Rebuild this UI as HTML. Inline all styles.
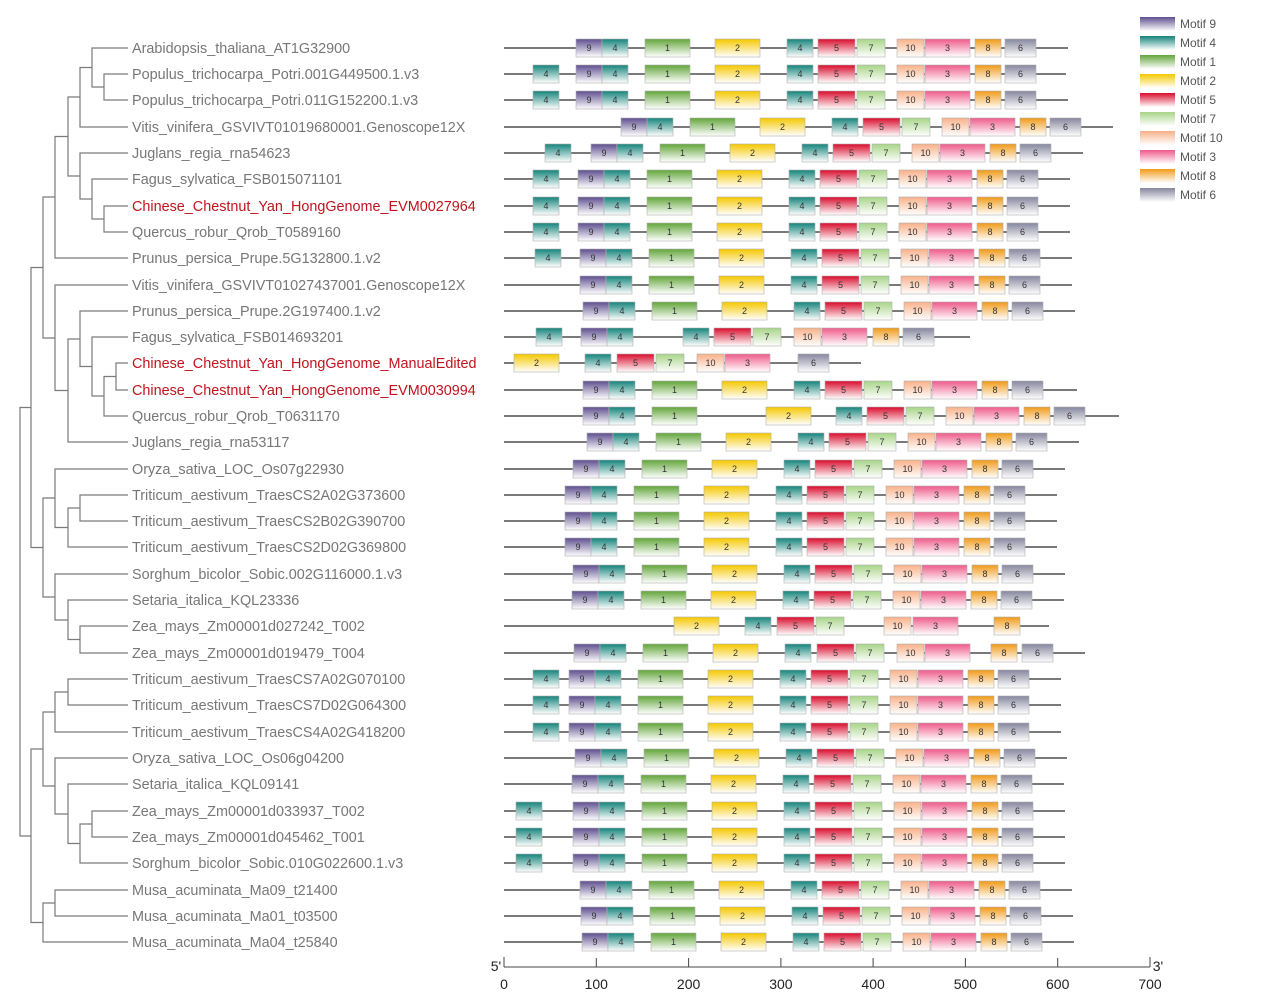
<!DOCTYPE html>
<html><head><meta charset="utf-8"><style>
body{margin:0;background:#fff;}
svg{display:block;font-family:"Liberation Sans",sans-serif;}
.ln{stroke:#7a7a7a;stroke-width:2}
rect.b{y:-9px;height:18px;stroke:#b0b0b0;stroke-width:.6}
.m9{fill:url(#g9);width:26px}.m4{fill:url(#g4);width:26px}.m1{fill:url(#g1);width:45px}.m2{fill:url(#g2);width:45px}
.m5{fill:url(#g5);width:37px}.m7{fill:url(#g7);width:28px}.m10{fill:url(#g10);width:27px}.m3{fill:url(#g3);width:45px}
.m8{fill:url(#g8);width:26px}.m6{fill:url(#g6);width:31px}
.r text{font-size:9px;text-anchor:middle;dominant-baseline:central;fill:#333}
.tr path{fill:none;stroke:#7a7a7a;stroke-width:1.2}
.lb{font-size:14.4px;fill:#777}.red{fill:#c0141c}
.lg{font-size:12px;fill:#555}
.ax{font-size:14px;fill:#222;text-anchor:middle}
</style></head><body>
<svg width="1269" height="997" viewBox="0 0 1269 997">
<defs>
<linearGradient id="g9" x1="0" y1="0" x2="0" y2="1"><stop offset="0" stop-color="#5e4e8e"/><stop offset="1" stop-color="#fff"/></linearGradient>
<linearGradient id="g4" x1="0" y1="0" x2="0" y2="1"><stop offset="0" stop-color="#14837a"/><stop offset="1" stop-color="#fff"/></linearGradient>
<linearGradient id="g1" x1="0" y1="0" x2="0" y2="1"><stop offset="0" stop-color="#62a53a"/><stop offset="1" stop-color="#fff"/></linearGradient>
<linearGradient id="g2" x1="0" y1="0" x2="0" y2="1"><stop offset="0" stop-color="#f5c800"/><stop offset="1" stop-color="#fff"/></linearGradient>
<linearGradient id="g5" x1="0" y1="0" x2="0" y2="1"><stop offset="0" stop-color="#d80c2c"/><stop offset="1" stop-color="#fff"/></linearGradient>
<linearGradient id="g7" x1="0" y1="0" x2="0" y2="1"><stop offset="0" stop-color="#a8d488"/><stop offset="1" stop-color="#fff"/></linearGradient>
<linearGradient id="g10" x1="0" y1="0" x2="0" y2="1"><stop offset="0" stop-color="#f8b088"/><stop offset="1" stop-color="#fff"/></linearGradient>
<linearGradient id="g3" x1="0" y1="0" x2="0" y2="1"><stop offset="0" stop-color="#ee5a8a"/><stop offset="1" stop-color="#fff"/></linearGradient>
<linearGradient id="g8" x1="0" y1="0" x2="0" y2="1"><stop offset="0" stop-color="#f09a18"/><stop offset="1" stop-color="#fff"/></linearGradient>
<linearGradient id="g6" x1="0" y1="0" x2="0" y2="1"><stop offset="0" stop-color="#86869e"/><stop offset="1" stop-color="#fff"/></linearGradient>
</defs>

<g class="tr">
<path d="M128,74H104V100H128"/>
<path d="M128,48H92V87H104"/>
<path d="M92,67.5H80V127H128"/>
<path d="M128,206H104V232H128"/>
<path d="M128,179H92V219H104"/>
<path d="M128,153H80V199H92"/>
<path d="M80,97H68V176H80"/>
<path d="M68,136.5H55V258H128"/>
<path d="M128,363H116V390H128"/>
<path d="M116,376.5H104V416H128"/>
<path d="M128,337H92V396H104"/>
<path d="M128,311H80V366.5H92"/>
<path d="M80,339H68V442H128"/>
<path d="M128,285H55V390.5H68"/>
<path d="M55,197H43V338H55"/>
<path d="M128,495H80V521H128"/>
<path d="M80,508H68V547H128"/>
<path d="M128,469H55V527.5H68"/>
<path d="M128,626H80V653H128"/>
<path d="M128,600H68V639.5H80"/>
<path d="M128,574H55V620H68"/>
<path d="M55,498H43V597H55"/>
<path d="M43,267.5H31V547.5H43"/>
<path d="M128,679H68V705H128"/>
<path d="M68,692H55V732H128"/>
<path d="M128,811H92V837H128"/>
<path d="M92,824H80V863H128"/>
<path d="M128,784H68V843.5H80"/>
<path d="M128,758H55V814H68"/>
<path d="M55,712H43V786H55"/>
<path d="M128,890H55V916H128"/>
<path d="M55,903H43V942H128"/>
<path d="M43,749H31V922.5H43"/>
<path d="M31,407.5H20V836H31"/>
</g>

<g class="lb">
<text x="132" y="53">Arabidopsis_thaliana_AT1G32900</text>
<text x="132" y="79">Populus_trichocarpa_Potri.001G449500.1.v3</text>
<text x="132" y="105">Populus_trichocarpa_Potri.011G152200.1.v3</text>
<text x="132" y="132">Vitis_vinifera_GSVIVT01019680001.Genoscope12X</text>
<text x="132" y="158">Juglans_regia_rna54623</text>
<text x="132" y="184">Fagus_sylvatica_FSB015071101</text>
<text x="132" y="211" class="red">Chinese_Chestnut_Yan_HongGenome_EVM0027964</text>
<text x="132" y="237">Quercus_robur_Qrob_T0589160</text>
<text x="132" y="263">Prunus_persica_Prupe.5G132800.1.v2</text>
<text x="132" y="290">Vitis_vinifera_GSVIVT01027437001.Genoscope12X</text>
<text x="132" y="316">Prunus_persica_Prupe.2G197400.1.v2</text>
<text x="132" y="342">Fagus_sylvatica_FSB014693201</text>
<text x="132" y="368" class="red">Chinese_Chestnut_Yan_HongGenome_ManualEdited</text>
<text x="132" y="395" class="red">Chinese_Chestnut_Yan_HongGenome_EVM0030994</text>
<text x="132" y="421">Quercus_robur_Qrob_T0631170</text>
<text x="132" y="447">Juglans_regia_rna53117</text>
<text x="132" y="474">Oryza_sativa_LOC_Os07g22930</text>
<text x="132" y="500">Triticum_aestivum_TraesCS2A02G373600</text>
<text x="132" y="526">Triticum_aestivum_TraesCS2B02G390700</text>
<text x="132" y="552">Triticum_aestivum_TraesCS2D02G369800</text>
<text x="132" y="579">Sorghum_bicolor_Sobic.002G116000.1.v3</text>
<text x="132" y="605">Setaria_italica_KQL23336</text>
<text x="132" y="631">Zea_mays_Zm00001d027242_T002</text>
<text x="132" y="658">Zea_mays_Zm00001d019479_T004</text>
<text x="132" y="684">Triticum_aestivum_TraesCS7A02G070100</text>
<text x="132" y="710">Triticum_aestivum_TraesCS7D02G064300</text>
<text x="132" y="737">Triticum_aestivum_TraesCS4A02G418200</text>
<text x="132" y="763">Oryza_sativa_LOC_Os06g04200</text>
<text x="132" y="789">Setaria_italica_KQL09141</text>
<text x="132" y="816">Zea_mays_Zm00001d033937_T002</text>
<text x="132" y="842">Zea_mays_Zm00001d045462_T001</text>
<text x="132" y="868">Sorghum_bicolor_Sobic.010G022600.1.v3</text>
<text x="132" y="895">Musa_acuminata_Ma09_t21400</text>
<text x="132" y="921">Musa_acuminata_Ma01_t03500</text>
<text x="132" y="947">Musa_acuminata_Ma04_t25840</text>
</g>

<g class="r" transform="translate(0,48)"><line class="ln" x1="504" x2="1068"/><rect class="b m9" x="576"/><rect class="b m4" x="602"/><rect class="b m1" x="645"/><rect class="b m2" x="715"/><rect class="b m4" x="787"/><rect class="b m5" x="818"/><rect class="b m7" x="857"/><rect class="b m10" x="897"/><rect class="b m3" x="925"/><rect class="b m8" x="975"/><rect class="b m6" x="1005"/><text x="589">9</text><text x="615">4</text><text x="667.5">1</text><text x="737.5">2</text><text x="800">4</text><text x="836.5">5</text><text x="871">7</text><text x="910.5">10</text><text x="947.5">3</text><text x="988">8</text><text x="1020.5">6</text></g>

<g class="r" transform="translate(0,74)"><line class="ln" x1="504" x2="1066"/><rect class="b m4" x="533"/><text x="546">4</text><rect class="b m9" x="576"/><rect class="b m4" x="602"/><rect class="b m1" x="645"/><rect class="b m2" x="715"/><rect class="b m4" x="787"/><rect class="b m5" x="818"/><rect class="b m7" x="857"/><rect class="b m10" x="897"/><rect class="b m3" x="925"/><rect class="b m8" x="975"/><rect class="b m6" x="1005"/><text x="589">9</text><text x="615">4</text><text x="667.5">1</text><text x="737.5">2</text><text x="800">4</text><text x="836.5">5</text><text x="871">7</text><text x="910.5">10</text><text x="947.5">3</text><text x="988">8</text><text x="1020.5">6</text></g>

<g class="r" transform="translate(0,100)"><line class="ln" x1="504" x2="1068"/><rect class="b m4" x="533"/><text x="546">4</text><rect class="b m9" x="576"/><rect class="b m4" x="602"/><rect class="b m1" x="645"/><rect class="b m2" x="715"/><rect class="b m4" x="787"/><rect class="b m5" x="818"/><rect class="b m7" x="857"/><rect class="b m10" x="897"/><rect class="b m3" x="925"/><rect class="b m8" x="975"/><rect class="b m6" x="1005"/><text x="589">9</text><text x="615">4</text><text x="667.5">1</text><text x="737.5">2</text><text x="800">4</text><text x="836.5">5</text><text x="871">7</text><text x="910.5">10</text><text x="947.5">3</text><text x="988">8</text><text x="1020.5">6</text></g>

<g class="r" transform="translate(0,127)"><line class="ln" x1="504" x2="1113"/><rect class="b m9" x="621"/><rect class="b m4" x="647"/><rect class="b m1" x="690"/><rect class="b m2" x="760"/><rect class="b m4" x="832"/><rect class="b m5" x="863"/><rect class="b m7" x="902"/><rect class="b m10" x="942"/><rect class="b m3" x="970"/><rect class="b m8" x="1020"/><rect class="b m6" x="1050"/><text x="634">9</text><text x="660">4</text><text x="712.5">1</text><text x="782.5">2</text><text x="845">4</text><text x="881.5">5</text><text x="916">7</text><text x="955.5">10</text><text x="992.5">3</text><text x="1033">8</text><text x="1065.5">6</text></g>

<g class="r" transform="translate(0,153)"><line class="ln" x1="504" x2="1083"/><rect class="b m4" x="545"/><text x="558">4</text><rect class="b m9" x="591"/><rect class="b m4" x="617"/><rect class="b m1" x="660"/><rect class="b m2" x="730"/><rect class="b m4" x="802"/><rect class="b m5" x="833"/><rect class="b m7" x="872"/><rect class="b m10" x="912"/><rect class="b m3" x="940"/><rect class="b m8" x="990"/><rect class="b m6" x="1020"/><text x="604">9</text><text x="630">4</text><text x="682.5">1</text><text x="752.5">2</text><text x="815">4</text><text x="851.5">5</text><text x="886">7</text><text x="925.5">10</text><text x="962.5">3</text><text x="1003">8</text><text x="1035.5">6</text></g>

<g class="r" transform="translate(0,179)"><line class="ln" x1="504" x2="1070"/><rect class="b m4" x="533"/><text x="546">4</text><rect class="b m9" x="578"/><rect class="b m4" x="604"/><rect class="b m1" x="647"/><rect class="b m2" x="717"/><rect class="b m4" x="789"/><rect class="b m5" x="820"/><rect class="b m7" x="859"/><rect class="b m10" x="899"/><rect class="b m3" x="927"/><rect class="b m8" x="977"/><rect class="b m6" x="1007"/><text x="591">9</text><text x="617">4</text><text x="669.5">1</text><text x="739.5">2</text><text x="802">4</text><text x="838.5">5</text><text x="873">7</text><text x="912.5">10</text><text x="949.5">3</text><text x="990">8</text><text x="1022.5">6</text></g>

<g class="r" transform="translate(0,206)"><line class="ln" x1="504" x2="1070"/><rect class="b m4" x="533"/><text x="546">4</text><rect class="b m9" x="578"/><rect class="b m4" x="604"/><rect class="b m1" x="647"/><rect class="b m2" x="717"/><rect class="b m4" x="789"/><rect class="b m5" x="820"/><rect class="b m7" x="859"/><rect class="b m10" x="899"/><rect class="b m3" x="927"/><rect class="b m8" x="977"/><rect class="b m6" x="1007"/><text x="591">9</text><text x="617">4</text><text x="669.5">1</text><text x="739.5">2</text><text x="802">4</text><text x="838.5">5</text><text x="873">7</text><text x="912.5">10</text><text x="949.5">3</text><text x="990">8</text><text x="1022.5">6</text></g>

<g class="r" transform="translate(0,232)"><line class="ln" x1="504" x2="1070"/><rect class="b m4" x="533"/><text x="546">4</text><rect class="b m9" x="578"/><rect class="b m4" x="604"/><rect class="b m1" x="647"/><rect class="b m2" x="717"/><rect class="b m4" x="789"/><rect class="b m5" x="820"/><rect class="b m7" x="859"/><rect class="b m10" x="899"/><rect class="b m3" x="927"/><rect class="b m8" x="977"/><rect class="b m6" x="1007"/><text x="591">9</text><text x="617">4</text><text x="669.5">1</text><text x="739.5">2</text><text x="802">4</text><text x="838.5">5</text><text x="873">7</text><text x="912.5">10</text><text x="949.5">3</text><text x="990">8</text><text x="1022.5">6</text></g>

<g class="r" transform="translate(0,258)"><line class="ln" x1="504" x2="1072"/><rect class="b m4" x="535"/><text x="548">4</text><rect class="b m9" x="580"/><rect class="b m4" x="606"/><rect class="b m1" x="649"/><rect class="b m2" x="719"/><rect class="b m4" x="791"/><rect class="b m5" x="822"/><rect class="b m7" x="861"/><rect class="b m10" x="901"/><rect class="b m3" x="929"/><rect class="b m8" x="979"/><rect class="b m6" x="1009"/><text x="593">9</text><text x="619">4</text><text x="671.5">1</text><text x="741.5">2</text><text x="804">4</text><text x="840.5">5</text><text x="875">7</text><text x="914.5">10</text><text x="951.5">3</text><text x="992">8</text><text x="1024.5">6</text></g>

<g class="r" transform="translate(0,285)"><line class="ln" x1="504" x2="1072"/><rect class="b m9" x="580"/><rect class="b m4" x="606"/><rect class="b m1" x="649"/><rect class="b m2" x="719"/><rect class="b m4" x="791"/><rect class="b m5" x="822"/><rect class="b m7" x="861"/><rect class="b m10" x="901"/><rect class="b m3" x="929"/><rect class="b m8" x="979"/><rect class="b m6" x="1009"/><text x="593">9</text><text x="619">4</text><text x="671.5">1</text><text x="741.5">2</text><text x="804">4</text><text x="840.5">5</text><text x="875">7</text><text x="914.5">10</text><text x="951.5">3</text><text x="992">8</text><text x="1024.5">6</text></g>

<g class="r" transform="translate(0,311)"><line class="ln" x1="504" x2="1075"/><rect class="b m9" x="583"/><rect class="b m4" x="609"/><rect class="b m1" x="652"/><rect class="b m2" x="722"/><rect class="b m4" x="794"/><rect class="b m5" x="825"/><rect class="b m7" x="864"/><rect class="b m10" x="904"/><rect class="b m3" x="932"/><rect class="b m8" x="982"/><rect class="b m6" x="1012"/><text x="596">9</text><text x="622">4</text><text x="674.5">1</text><text x="744.5">2</text><text x="807">4</text><text x="843.5">5</text><text x="878">7</text><text x="917.5">10</text><text x="954.5">3</text><text x="995">8</text><text x="1027.5">6</text></g>

<g class="r" transform="translate(0,337)"><line class="ln" x1="504" x2="970"/><rect class="b m4" x="536"/><rect class="b m9" x="581"/><rect class="b m4" x="607"/><rect class="b m4" x="683"/><rect class="b m5" x="714"/><rect class="b m7" x="753"/><rect class="b m10" x="794"/><rect class="b m3" x="822"/><rect class="b m8" x="873"/><rect class="b m6" x="903"/><text x="549">4</text><text x="594">9</text><text x="620">4</text><text x="696">4</text><text x="732.5">5</text><text x="767">7</text><text x="807.5">10</text><text x="844.5">3</text><text x="886">8</text><text x="918.5">6</text></g>

<g class="r" transform="translate(0,363)"><line class="ln" x1="504" x2="861"/><rect class="b m2" x="514"/><rect class="b m4" x="585"/><rect class="b m5" x="617"/><rect class="b m7" x="656"/><rect class="b m10" x="697"/><rect class="b m3" x="725"/><rect class="b m6" x="798"/><text x="536.5">2</text><text x="598">4</text><text x="635.5">5</text><text x="670">7</text><text x="710.5">10</text><text x="747.5">3</text><text x="813.5">6</text></g>

<g class="r" transform="translate(0,390)"><line class="ln" x1="504" x2="1077"/><rect class="b m9" x="583"/><rect class="b m4" x="609"/><rect class="b m1" x="652"/><rect class="b m2" x="722"/><rect class="b m4" x="794"/><rect class="b m5" x="825"/><rect class="b m7" x="864"/><rect class="b m10" x="904"/><rect class="b m3" x="932"/><rect class="b m8" x="982"/><rect class="b m6" x="1012"/><text x="596">9</text><text x="622">4</text><text x="674.5">1</text><text x="744.5">2</text><text x="807">4</text><text x="843.5">5</text><text x="878">7</text><text x="917.5">10</text><text x="954.5">3</text><text x="995">8</text><text x="1027.5">6</text></g>

<g class="r" transform="translate(0,416)"><line class="ln" x1="504" x2="1119"/><rect class="b m9" x="583"/><rect class="b m4" x="609"/><rect class="b m1" x="652"/><rect class="b m2" x="766"/><rect class="b m4" x="836"/><rect class="b m5" x="867"/><rect class="b m7" x="906"/><rect class="b m10" x="946"/><rect class="b m3" x="974"/><rect class="b m8" x="1024"/><rect class="b m6" x="1054"/><text x="596">9</text><text x="622">4</text><text x="674.5">1</text><text x="788.5">2</text><text x="849">4</text><text x="885.5">5</text><text x="920">7</text><text x="959.5">10</text><text x="996.5">3</text><text x="1037">8</text><text x="1069.5">6</text></g>

<g class="r" transform="translate(0,442)"><line class="ln" x1="504" x2="1079"/><rect class="b m9" x="587"/><rect class="b m4" x="613"/><rect class="b m1" x="656"/><rect class="b m2" x="726"/><rect class="b m4" x="798"/><rect class="b m5" x="829"/><rect class="b m7" x="868"/><rect class="b m10" x="908"/><rect class="b m3" x="936"/><rect class="b m8" x="986"/><rect class="b m6" x="1016"/><text x="600">9</text><text x="626">4</text><text x="678.5">1</text><text x="748.5">2</text><text x="811">4</text><text x="847.5">5</text><text x="882">7</text><text x="921.5">10</text><text x="958.5">3</text><text x="999">8</text><text x="1031.5">6</text></g>

<g class="r" transform="translate(0,469)"><line class="ln" x1="504" x2="1065"/><rect class="b m9" x="573"/><rect class="b m4" x="599"/><rect class="b m1" x="642"/><rect class="b m2" x="712"/><rect class="b m4" x="784"/><rect class="b m5" x="815"/><rect class="b m7" x="854"/><rect class="b m10" x="894"/><rect class="b m3" x="922"/><rect class="b m8" x="972"/><rect class="b m6" x="1002"/><text x="586">9</text><text x="612">4</text><text x="664.5">1</text><text x="734.5">2</text><text x="797">4</text><text x="833.5">5</text><text x="868">7</text><text x="907.5">10</text><text x="944.5">3</text><text x="985">8</text><text x="1017.5">6</text></g>

<g class="r" transform="translate(0,495)"><line class="ln" x1="504" x2="1057"/><rect class="b m9" x="565"/><rect class="b m4" x="591"/><rect class="b m1" x="634"/><rect class="b m2" x="704"/><rect class="b m4" x="776"/><rect class="b m5" x="807"/><rect class="b m7" x="846"/><rect class="b m10" x="886"/><rect class="b m3" x="914"/><rect class="b m8" x="964"/><rect class="b m6" x="994"/><text x="578">9</text><text x="604">4</text><text x="656.5">1</text><text x="726.5">2</text><text x="789">4</text><text x="825.5">5</text><text x="860">7</text><text x="899.5">10</text><text x="936.5">3</text><text x="977">8</text><text x="1009.5">6</text></g>

<g class="r" transform="translate(0,521)"><line class="ln" x1="504" x2="1057"/><rect class="b m9" x="565"/><rect class="b m4" x="591"/><rect class="b m1" x="634"/><rect class="b m2" x="704"/><rect class="b m4" x="776"/><rect class="b m5" x="807"/><rect class="b m7" x="846"/><rect class="b m10" x="886"/><rect class="b m3" x="914"/><rect class="b m8" x="964"/><rect class="b m6" x="994"/><text x="578">9</text><text x="604">4</text><text x="656.5">1</text><text x="726.5">2</text><text x="789">4</text><text x="825.5">5</text><text x="860">7</text><text x="899.5">10</text><text x="936.5">3</text><text x="977">8</text><text x="1009.5">6</text></g>

<g class="r" transform="translate(0,547)"><line class="ln" x1="504" x2="1057"/><rect class="b m9" x="565"/><rect class="b m4" x="591"/><rect class="b m1" x="634"/><rect class="b m2" x="704"/><rect class="b m4" x="776"/><rect class="b m5" x="807"/><rect class="b m7" x="846"/><rect class="b m10" x="886"/><rect class="b m3" x="914"/><rect class="b m8" x="964"/><rect class="b m6" x="994"/><text x="578">9</text><text x="604">4</text><text x="656.5">1</text><text x="726.5">2</text><text x="789">4</text><text x="825.5">5</text><text x="860">7</text><text x="899.5">10</text><text x="936.5">3</text><text x="977">8</text><text x="1009.5">6</text></g>

<g class="r" transform="translate(0,574)"><line class="ln" x1="504" x2="1065"/><rect class="b m9" x="573"/><rect class="b m4" x="599"/><rect class="b m1" x="642"/><rect class="b m2" x="712"/><rect class="b m4" x="784"/><rect class="b m5" x="815"/><rect class="b m7" x="854"/><rect class="b m10" x="894"/><rect class="b m3" x="922"/><rect class="b m8" x="972"/><rect class="b m6" x="1002"/><text x="586">9</text><text x="612">4</text><text x="664.5">1</text><text x="734.5">2</text><text x="797">4</text><text x="833.5">5</text><text x="868">7</text><text x="907.5">10</text><text x="944.5">3</text><text x="985">8</text><text x="1017.5">6</text></g>

<g class="r" transform="translate(0,600)"><line class="ln" x1="504" x2="1064"/><rect class="b m9" x="572"/><rect class="b m4" x="598"/><rect class="b m1" x="641"/><rect class="b m2" x="711"/><rect class="b m4" x="783"/><rect class="b m5" x="814"/><rect class="b m7" x="853"/><rect class="b m10" x="893"/><rect class="b m3" x="921"/><rect class="b m8" x="971"/><rect class="b m6" x="1001"/><text x="585">9</text><text x="611">4</text><text x="663.5">1</text><text x="733.5">2</text><text x="796">4</text><text x="832.5">5</text><text x="867">7</text><text x="906.5">10</text><text x="943.5">3</text><text x="984">8</text><text x="1016.5">6</text></g>

<g class="r" transform="translate(0,626)"><line class="ln" x1="504" x2="1049"/><rect class="b m2" x="674"/><rect class="b m4" x="745"/><rect class="b m5" x="777"/><rect class="b m7" x="816"/><rect class="b m10" x="884"/><rect class="b m3" x="913"/><rect class="b m8" x="994"/><text x="696.5">2</text><text x="758">4</text><text x="795.5">5</text><text x="830">7</text><text x="897.5">10</text><text x="935.5">3</text><text x="1007">8</text></g>

<g class="r" transform="translate(0,653)"><line class="ln" x1="504" x2="1085"/><rect class="b m9" x="574"/><rect class="b m4" x="600"/><rect class="b m1" x="643"/><rect class="b m2" x="713"/><rect class="b m4" x="785"/><rect class="b m5" x="817"/><rect class="b m7" x="856"/><rect class="b m10" x="897"/><rect class="b m3" x="925"/><rect class="b m8" x="991"/><rect class="b m6" x="1022"/><text x="587">9</text><text x="613">4</text><text x="665.5">1</text><text x="735.5">2</text><text x="798">4</text><text x="835.5">5</text><text x="870">7</text><text x="910.5">10</text><text x="947.5">3</text><text x="1004">8</text><text x="1037.5">6</text></g>

<g class="r" transform="translate(0,679)"><line class="ln" x1="504" x2="1061"/><rect class="b m4" x="533"/><text x="546">4</text><rect class="b m9" x="569"/><rect class="b m4" x="595"/><rect class="b m1" x="638"/><rect class="b m2" x="708"/><rect class="b m4" x="780"/><rect class="b m5" x="811"/><rect class="b m7" x="850"/><rect class="b m10" x="890"/><rect class="b m3" x="918"/><rect class="b m8" x="968"/><rect class="b m6" x="998"/><text x="582">9</text><text x="608">4</text><text x="660.5">1</text><text x="730.5">2</text><text x="793">4</text><text x="829.5">5</text><text x="864">7</text><text x="903.5">10</text><text x="940.5">3</text><text x="981">8</text><text x="1013.5">6</text></g>

<g class="r" transform="translate(0,705)"><line class="ln" x1="504" x2="1061"/><rect class="b m4" x="533"/><text x="546">4</text><rect class="b m9" x="569"/><rect class="b m4" x="595"/><rect class="b m1" x="638"/><rect class="b m2" x="708"/><rect class="b m4" x="780"/><rect class="b m5" x="811"/><rect class="b m7" x="850"/><rect class="b m10" x="890"/><rect class="b m3" x="918"/><rect class="b m8" x="968"/><rect class="b m6" x="998"/><text x="582">9</text><text x="608">4</text><text x="660.5">1</text><text x="730.5">2</text><text x="793">4</text><text x="829.5">5</text><text x="864">7</text><text x="903.5">10</text><text x="940.5">3</text><text x="981">8</text><text x="1013.5">6</text></g>

<g class="r" transform="translate(0,732)"><line class="ln" x1="504" x2="1061"/><rect class="b m4" x="533"/><text x="546">4</text><rect class="b m9" x="569"/><rect class="b m4" x="595"/><rect class="b m1" x="638"/><rect class="b m2" x="708"/><rect class="b m4" x="780"/><rect class="b m5" x="811"/><rect class="b m7" x="850"/><rect class="b m10" x="890"/><rect class="b m3" x="918"/><rect class="b m8" x="968"/><rect class="b m6" x="998"/><text x="582">9</text><text x="608">4</text><text x="660.5">1</text><text x="730.5">2</text><text x="793">4</text><text x="829.5">5</text><text x="864">7</text><text x="903.5">10</text><text x="940.5">3</text><text x="981">8</text><text x="1013.5">6</text></g>

<g class="r" transform="translate(0,758)"><line class="ln" x1="504" x2="1067"/><rect class="b m9" x="575"/><rect class="b m4" x="601"/><rect class="b m1" x="644"/><rect class="b m2" x="714"/><rect class="b m4" x="786"/><rect class="b m5" x="817"/><rect class="b m7" x="856"/><rect class="b m10" x="896"/><rect class="b m3" x="924"/><rect class="b m8" x="974"/><rect class="b m6" x="1004"/><text x="588">9</text><text x="614">4</text><text x="666.5">1</text><text x="736.5">2</text><text x="799">4</text><text x="835.5">5</text><text x="870">7</text><text x="909.5">10</text><text x="946.5">3</text><text x="987">8</text><text x="1019.5">6</text></g>

<g class="r" transform="translate(0,784)"><line class="ln" x1="504" x2="1064"/><rect class="b m9" x="572"/><rect class="b m4" x="598"/><rect class="b m1" x="641"/><rect class="b m2" x="711"/><rect class="b m4" x="783"/><rect class="b m5" x="814"/><rect class="b m7" x="853"/><rect class="b m10" x="893"/><rect class="b m3" x="921"/><rect class="b m8" x="971"/><rect class="b m6" x="1001"/><text x="585">9</text><text x="611">4</text><text x="663.5">1</text><text x="733.5">2</text><text x="796">4</text><text x="832.5">5</text><text x="867">7</text><text x="906.5">10</text><text x="943.5">3</text><text x="984">8</text><text x="1016.5">6</text></g>

<g class="r" transform="translate(0,811)"><line class="ln" x1="504" x2="1065"/><rect class="b m4" x="516"/><text x="529">4</text><rect class="b m9" x="573"/><rect class="b m4" x="599"/><rect class="b m1" x="642"/><rect class="b m2" x="712"/><rect class="b m4" x="784"/><rect class="b m5" x="815"/><rect class="b m7" x="854"/><rect class="b m10" x="894"/><rect class="b m3" x="922"/><rect class="b m8" x="972"/><rect class="b m6" x="1002"/><text x="586">9</text><text x="612">4</text><text x="664.5">1</text><text x="734.5">2</text><text x="797">4</text><text x="833.5">5</text><text x="868">7</text><text x="907.5">10</text><text x="944.5">3</text><text x="985">8</text><text x="1017.5">6</text></g>

<g class="r" transform="translate(0,837)"><line class="ln" x1="504" x2="1065"/><rect class="b m4" x="516"/><text x="529">4</text><rect class="b m9" x="573"/><rect class="b m4" x="599"/><rect class="b m1" x="642"/><rect class="b m2" x="712"/><rect class="b m4" x="784"/><rect class="b m5" x="815"/><rect class="b m7" x="854"/><rect class="b m10" x="894"/><rect class="b m3" x="922"/><rect class="b m8" x="972"/><rect class="b m6" x="1002"/><text x="586">9</text><text x="612">4</text><text x="664.5">1</text><text x="734.5">2</text><text x="797">4</text><text x="833.5">5</text><text x="868">7</text><text x="907.5">10</text><text x="944.5">3</text><text x="985">8</text><text x="1017.5">6</text></g>

<g class="r" transform="translate(0,863)"><line class="ln" x1="504" x2="1065"/><rect class="b m4" x="516"/><text x="529">4</text><rect class="b m9" x="573"/><rect class="b m4" x="599"/><rect class="b m1" x="642"/><rect class="b m2" x="712"/><rect class="b m4" x="784"/><rect class="b m5" x="815"/><rect class="b m7" x="854"/><rect class="b m10" x="894"/><rect class="b m3" x="922"/><rect class="b m8" x="972"/><rect class="b m6" x="1002"/><text x="586">9</text><text x="612">4</text><text x="664.5">1</text><text x="734.5">2</text><text x="797">4</text><text x="833.5">5</text><text x="868">7</text><text x="907.5">10</text><text x="944.5">3</text><text x="985">8</text><text x="1017.5">6</text></g>

<g class="r" transform="translate(0,890)"><line class="ln" x1="504" x2="1072"/><rect class="b m9" x="580"/><rect class="b m4" x="606"/><rect class="b m1" x="649"/><rect class="b m2" x="719"/><rect class="b m4" x="791"/><rect class="b m5" x="822"/><rect class="b m7" x="861"/><rect class="b m10" x="901"/><rect class="b m3" x="929"/><rect class="b m8" x="979"/><rect class="b m6" x="1009"/><text x="593">9</text><text x="619">4</text><text x="671.5">1</text><text x="741.5">2</text><text x="804">4</text><text x="840.5">5</text><text x="875">7</text><text x="914.5">10</text><text x="951.5">3</text><text x="992">8</text><text x="1024.5">6</text></g>

<g class="r" transform="translate(0,916)"><line class="ln" x1="504" x2="1073"/><rect class="b m9" x="581"/><rect class="b m4" x="607"/><rect class="b m1" x="650"/><rect class="b m2" x="720"/><rect class="b m4" x="792"/><rect class="b m5" x="823"/><rect class="b m7" x="862"/><rect class="b m10" x="902"/><rect class="b m3" x="930"/><rect class="b m8" x="980"/><rect class="b m6" x="1010"/><text x="594">9</text><text x="620">4</text><text x="672.5">1</text><text x="742.5">2</text><text x="805">4</text><text x="841.5">5</text><text x="876">7</text><text x="915.5">10</text><text x="952.5">3</text><text x="993">8</text><text x="1025.5">6</text></g>

<g class="r" transform="translate(0,942)"><line class="ln" x1="504" x2="1074"/><rect class="b m9" x="582"/><rect class="b m4" x="608"/><rect class="b m1" x="651"/><rect class="b m2" x="721"/><rect class="b m4" x="793"/><rect class="b m5" x="824"/><rect class="b m7" x="863"/><rect class="b m10" x="903"/><rect class="b m3" x="931"/><rect class="b m8" x="981"/><rect class="b m6" x="1011"/><text x="595">9</text><text x="621">4</text><text x="673.5">1</text><text x="743.5">2</text><text x="806">4</text><text x="842.5">5</text><text x="877">7</text><text x="916.5">10</text><text x="953.5">3</text><text x="994">8</text><text x="1026.5">6</text></g>

<g stroke="#444" stroke-width="1">
<line x1="504" y1="967" x2="1150" y2="967"/>
<line x1="504" y1="957" x2="504" y2="967"/>
<line x1="596.3" y1="958" x2="596.3" y2="967"/>
<line x1="688.6" y1="958" x2="688.6" y2="967"/>
<line x1="780.9" y1="958" x2="780.9" y2="967"/>
<line x1="873.1" y1="958" x2="873.1" y2="967"/>
<line x1="965.4" y1="958" x2="965.4" y2="967"/>
<line x1="1057.7" y1="958" x2="1057.7" y2="967"/>
<line x1="1150" y1="957" x2="1150" y2="967"/>
</g>
<g class="ax">
<text x="504" y="989">0</text><text x="596.3" y="989">100</text><text x="688.6" y="989">200</text><text x="780.9" y="989">300</text><text x="873.1" y="989">400</text><text x="965.4" y="989">500</text><text x="1057.7" y="989">600</text><text x="1150" y="989">700</text>
<text x="496" y="971">5'</text><text x="1158" y="971">3'</text>
</g>

<g>
<rect x="1140" y="17" width="35" height="14" fill="url(#g9)"/>
<rect x="1140" y="36" width="35" height="14" fill="url(#g4)"/>
<rect x="1140" y="55" width="35" height="14" fill="url(#g1)"/>
<rect x="1140" y="74" width="35" height="14" fill="url(#g2)"/>
<rect x="1140" y="93" width="35" height="14" fill="url(#g5)"/>
<rect x="1140" y="112" width="35" height="14" fill="url(#g7)"/>
<rect x="1140" y="131" width="35" height="14" fill="url(#g10)"/>
<rect x="1140" y="150" width="35" height="14" fill="url(#g3)"/>
<rect x="1140" y="169" width="35" height="14" fill="url(#g8)"/>
<rect x="1140" y="188" width="35" height="14" fill="url(#g6)"/>
</g>
<g class="lg">
<text x="1180" y="28">Motif 9</text>
<text x="1180" y="47">Motif 4</text>
<text x="1180" y="66">Motif 1</text>
<text x="1180" y="85">Motif 2</text>
<text x="1180" y="104">Motif 5</text>
<text x="1180" y="123">Motif 7</text>
<text x="1180" y="142">Motif 10</text>
<text x="1180" y="161">Motif 3</text>
<text x="1180" y="180">Motif 8</text>
<text x="1180" y="199">Motif 6</text>
</g>
</svg>
</body></html>
